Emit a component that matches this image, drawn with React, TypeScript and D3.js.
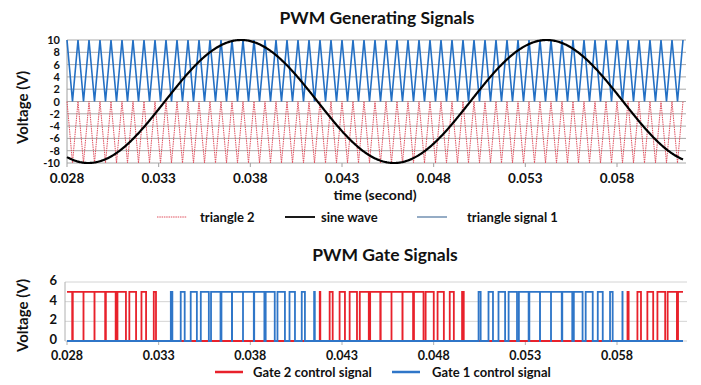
import React from 'react';
import * as d3 from 'd3';

// ---- data ----
const timeDomain = [0.028, 0.0616];
const xTickValues = [0.028, 0.033, 0.038, 0.043, 0.048, 0.053, 0.058];
const topYTicks = [-10, -8, -6, -4, -2, 0, 2, 4, 6, 8, 10];
const bottomYTicks = [0, 2, 4, 6];
const sineAmplitude = 10; // V
const sineFrequency = 60; // Hz
const carrierPeriod = 0.0006; // s
const triangle1Range = [0, 10];
const triangle2Range = [-10, 0];
const gateHighLevel = 5;
const topLegend = ['triangle 2', 'sine wave', 'triangle signal 1'];
const bottomLegend = ['Gate 2 control signal', 'Gate 1 control signal'];

const FONT = 'Lato, "Open Sans", sans-serif';
const BLUE = '#2470c4';
const RED_TRI = '#e0505e';
const RED_GATE = '#e8212b';
const BLUE_GATE = '#2f76c8';

const sine = (t: number) => sineAmplitude * Math.sin(2 * Math.PI * sineFrequency * t);
const tri = (t: number, range: number[]) => {
  let p = ((t - timeDomain[0]) / carrierPeriod) % 1;
  if (p < 0) p += 1;
  return range[0] + (range[1] - range[0]) * Math.abs(1 - 2 * p);
};

function trianglePoints(range: number[]): [number, number][] {
  const pts: [number, number][] = [];
  const n = Math.round((timeDomain[1] - timeDomain[0]) / (carrierPeriod / 2));
  for (let k = 0; k <= n; k++) {
    pts.push([timeDomain[0] + (k * carrierPeriod) / 2, k % 2 === 0 ? range[1] : range[0]]);
  }
  return pts;
}

function sinePoints(): [number, number][] {
  const pts: [number, number][] = [];
  const dt = 0.00005;
  for (let t = timeDomain[0]; t <= timeDomain[1] + 1e-9; t += dt) pts.push([t, sine(t)]);
  return pts;
}

function gatePoints(isHigh: (t: number) => boolean): [number, number][] {
  const pts: [number, number][] = [];
  const dt = 0.0000005;
  let prev: boolean | null = null;
  let t = timeDomain[0];
  for (; t <= timeDomain[1]; t += dt) {
    const h = isHigh(t);
    if (h !== prev) {
      pts.push([t, h ? gateHighLevel : 0]);
      prev = h;
    }
  }
  pts.push([timeDomain[1], prev ? gateHighLevel : 0]);
  return pts;
}

export default function App() {
  const x = d3.scaleLinear().domain(timeDomain).range([67, 683]);
  const yTop = d3.scaleLinear().domain([-10, 10]).range([163, 40]);
  const yBot = d3.scaleLinear().domain([0, 6]).range([341, 282]);

  const lineTop = d3.line<[number, number]>().x(d => x(d[0])).y(d => yTop(d[1]));
  const lineBot = d3
    .line<[number, number]>()
    .x(d => x(d[0]))
    .y(d => yBot(d[1]))
    .curve(d3.curveStepAfter);

  const tri1 = trianglePoints(triangle1Range);
  const tri2 = trianglePoints(triangle2Range);
  const sinePts = sinePoints();
  const gate1 = gatePoints(t => sine(t) > tri(t, triangle1Range));
  const gate2 = gatePoints(t => sine(t) < tri(t, triangle2Range));
  const fmt = d3.format('.3f');

  return (
    <svg width={701} height={385} style={{ position: 'absolute', left: 0, top: 0, background: '#fff' }}>
      {/* ===== TOP CHART ===== */}
      <text x={377} y={24} textAnchor="middle" fontFamily={FONT} fontWeight="bold" fontSize={17.5} fill="#111">
        PWM Generating Signals
      </text>
      {topYTicks.map(v => (
        <g key={'tg' + v}>
          <line x1={67} x2={686} y1={yTop(v)} y2={yTop(v)} stroke="#a8a8a8" strokeWidth={1} />
          <text x={60} y={yTop(v) + 4} textAnchor="end" fontFamily={FONT} fontWeight="bold" fontSize={11} fill="#111">
            {v}
          </text>
        </g>
      ))}
      <line x1={67} x2={67} y1={40} y2={163} stroke="#a0a0a0" />
      {xTickValues.map(v => (
        <g key={'tx' + v}>
          <line x1={x(v)} x2={x(v)} y1={163} y2={167} stroke="#a0a0a0" />
          <text x={x(v)} y={183} textAnchor="middle" fontFamily={FONT} fontWeight="bold" fontSize={13.5} fill="#111">
            {fmt(v)}
          </text>
        </g>
      ))}
      <text x={375} y={200} textAnchor="middle" fontFamily={FONT} fontWeight="bold" fontSize={14} fill="#111">
        time (second)
      </text>
      <text
        transform={`translate(28,${yTop(0) + 6}) rotate(-90)`}
        textAnchor="middle"
        fontFamily={FONT}
        fontWeight="bold"
        fontSize={15}
        fill="#111"
      >
        Voltage (V)
      </text>
      <path d={lineTop(tri2) || ''} fill="none" stroke={RED_TRI} strokeWidth={1} strokeDasharray="1.5 0.8" />
      <path d={lineTop(tri1) || ''} fill="none" stroke={BLUE} strokeWidth={1.6} />
      <path d={lineTop(sinePts) || ''} fill="none" stroke="#000" strokeWidth={2.2} />

      {/* top legend */}
      <line x1={157} x2={187} y1={217} y2={217} stroke={RED_TRI} strokeWidth={1} strokeDasharray="1.5 0.8" />
      <text x={200} y={221.5} fontFamily={FONT} fontWeight="bold" fontSize={13} fill="#111">
        {topLegend[0]}
      </text>
      <line x1={285} x2={315} y1={217} y2={217} stroke="#000" strokeWidth={1.8} />
      <text x={321} y={221.5} fontFamily={FONT} fontWeight="bold" fontSize={13} fill="#111">
        {topLegend[1]}
      </text>
      <line x1={417} x2={447} y1={217} y2={217} stroke="#5b7fa6" strokeWidth={1.3} />
      <text x={467} y={221.5} fontFamily={FONT} fontWeight="bold" fontSize={13} fill="#111">
        {topLegend[2]}
      </text>

      {/* ===== BOTTOM CHART ===== */}
      <text x={385} y={261} textAnchor="middle" fontFamily={FONT} fontWeight="bold" fontSize={17.5} fill="#111">
        PWM Gate Signals
      </text>
      {bottomYTicks.map(v => (
        <g key={'bg' + v}>
          <line x1={65} x2={687} y1={yBot(v)} y2={yBot(v)} stroke="#d4d4d4" strokeWidth={1} />
          <text x={57} y={yBot(v) + 3} textAnchor="end" fontFamily={FONT} fontWeight="bold" fontSize={13} fill="#111">
            {v}
          </text>
        </g>
      ))}
      <line x1={65} x2={65} y1={282} y2={341} stroke="#b0b0b0" />
      {xTickValues.map(v => (
        <g key={'bx' + v}>
          <line x1={x(v)} x2={x(v)} y1={341} y2={345} stroke="#b0b0b0" />
          <text x={x(v)} y={360} textAnchor="middle" fontFamily={FONT} fontWeight="bold" fontSize={12.5} fill="#111">
            {fmt(v)}
          </text>
        </g>
      ))}
      <text
        transform={`translate(28,${yBot(3) + 4}) rotate(-90)`}
        textAnchor="middle"
        fontFamily={FONT}
        fontWeight="bold"
        fontSize={15}
        fill="#111"
      >
        Voltage (V)
      </text>
      <path d={lineBot(gate2) || ''} fill="none" stroke={RED_GATE} strokeWidth={1.8} />
      <path d={lineBot(gate1) || ''} fill="none" stroke={BLUE_GATE} strokeWidth={1.8} />

      {/* bottom legend */}
      <line x1={215} x2={243} y1={372} y2={372} stroke={RED_GATE} strokeWidth={2.5} />
      <text x={253} y={377} fontFamily={FONT} fontWeight="bold" fontSize={13} fill="#111">
        {bottomLegend[0]}
      </text>
      <line x1={392} x2={420} y1={372} y2={372} stroke={BLUE_GATE} strokeWidth={2.5} />
      <text x={432} y={377} fontFamily={FONT} fontWeight="bold" fontSize={13} fill="#111">
        {bottomLegend[1]}
      </text>
    </svg>
  );
}
